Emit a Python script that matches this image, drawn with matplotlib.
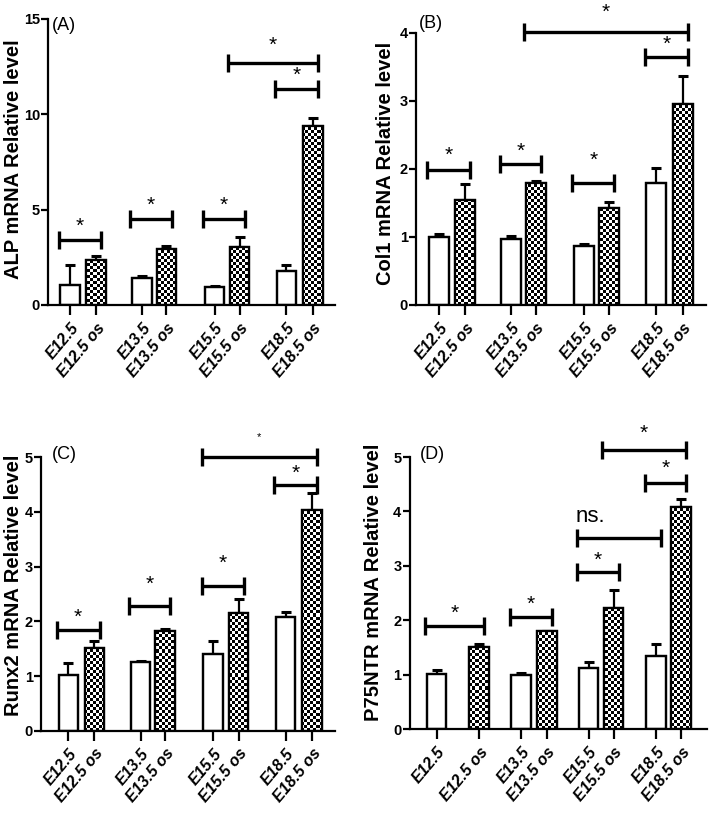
import numpy as np
import matplotlib
matplotlib.use("Agg")
from matplotlib import pyplot as plt

# categories (control / os pairs)
labels = ["E12.5", "E12.5 os", "E13.5", "E13.5 os",
          "E15.5", "E15.5 os", "E18.5", "E18.5 os"]
is_os = [False, True, False, True, False, True, False, True]

# bar heights and upper error bar lengths
alp_mean = [1.05, 2.35, 1.4, 2.95, 0.92, 3.05, 1.8, 9.4]
alp_err = [1.05, 0.2, 0.1, 0.15, 0.05, 0.52, 0.28, 0.4]
col1_mean = [1.0, 1.54, 0.97, 1.79, 0.87, 1.43, 1.79, 2.96]
col1_err = [0.05, 0.24, 0.05, 0.03, 0.03, 0.09, 0.22, 0.41]
runx2_mean = [1.02, 1.52, 1.25, 1.82, 1.41, 2.16, 2.07, 4.03]
runx2_err = [0.22, 0.12, 0.03, 0.03, 0.23, 0.24, 0.1, 0.32]
p75_mean = [1.01, 1.5, 1.0, 1.8, 1.13, 2.22, 1.35, 4.09]
p75_err = [0.08, 0.07, 0.03, 0.01, 0.1, 0.34, 0.22, 0.14]

# significance brackets: (left bar, right bar, height, label, label height)
alp_sig = [(0, 1, 3.4, "*", 4.4), (2, 3, 4.5, "*", 5.5), (4, 5, 4.5, "*", 5.5),
           (6, 7, 11.3, "*", 12.3), (5, 7, 12.7, "*", 13.9)]
col1_sig = [(0, 1, 1.99, "*", 2.28), (2, 3, 2.07, "*", 2.33), (4, 5, 1.79, "*", 2.21),
            (6, 7, 3.65, "*", 3.91), (3, 7, 4.02, "*", 4.38)]
runx2_sig = [(0, 1, 1.84, "*", 2.16), (2, 3, 2.28, "*", 2.77), (4, 5, 2.65, "*", 3.16),
             (6, 7, 4.49, "*", 4.8), (4, 7, 5.0, "*", 5.42)]
p75_sig = [(0, 1, 1.89, "*", 2.22), (2, 3, 2.06, "*", 2.38), (4, 5, 2.88, "*", 3.2),
           (4, 6, 3.51, "ns.", 3.9), (6, 7, 4.53, "*", 4.88), (5, 7, 5.13, "*", 5.53)]

FONT = ["Liberation Sans", "DejaVu Sans"]
NARROW = ["Liberation Sans Narrow", "Liberation Sans", "DejaVu Sans"]


def checker_fill(ax, bar):
    """Fill a bar with a black/white checkerboard, clipped to the bar."""
    fig = ax.figure
    bbox = ax.get_position()
    w_px = bbox.width * fig.get_figwidth() * fig.dpi
    h_px = bbox.height * fig.get_figheight() * fig.dpi
    nx, ny = int(w_px / 3), int(h_px / 3)
    board = np.add.outer(np.arange(ny), np.arange(nx)) % 2
    x0, x1 = ax.get_xlim()
    y0, y1 = ax.get_ylim()
    im = ax.imshow(board, cmap="gray", extent=(x0, x1, y0, y1), origin="lower",
                   aspect="auto", interpolation="nearest", zorder=2)
    im.set_clip_path(bar)


def draw_panel(ax, pos, xlim, mean, err, sig, ymax, yticks, ylabel, label_x,
               label_y, small_star=None):
    ax.set_xlim(*xlim)
    ax.set_ylim(0, ymax)
    bars = ax.bar(pos, mean, width=0.76, color="white", edgecolor="black",
                  linewidth=1.6, zorder=1)
    for b, os_bar in zip(bars, is_os):
        if os_bar:
            checker_fill(ax, b)
    # outline on top of the pattern
    ax.bar(pos, mean, width=0.76, fill=False, edgecolor="black",
           linewidth=1.6, zorder=3)
    ax.errorbar(pos, mean, yerr=[np.zeros(len(err)), err], fmt="none",
                ecolor="black", elinewidth=1.6, capsize=3.5, capthick=2.2,
                zorder=0)
    ax.set_xlim(*xlim)
    ax.set_ylim(0, ymax)

    for k, (i, j, y, txt, ty) in enumerate(sig):
        xl, xr = pos[i] - 0.45, pos[j] + 0.2
        ax.plot([xl, xr], [y, y], color="black", lw=2.4, clip_on=False,
                solid_capstyle="butt")
        ax.plot([xl, xr], [y, y], ls="none", marker="|", ms=13, mew=2.4,
                color="black", clip_on=False)
        if txt == "ns.":
            ax.text((xl + xr) / 2 - 1.1, ty, txt, ha="center", va="center",
                    fontsize=16, family=NARROW, clip_on=False)
        else:
            size = 8 if k == small_star else 15
            ax.annotate(txt, ((xl + xr) / 2, ty), xytext=(0, -size * 0.25),
                        textcoords="offset points", ha="center", va="center",
                        fontsize=size, family=FONT, annotation_clip=False)

    for s in ["top", "right"]:
        ax.spines[s].set_visible(False)
    for s in ["left", "bottom"]:
        ax.spines[s].set_linewidth(1.6)
    ax.set_xticks(pos)
    ax.set_xticklabels(labels, rotation=50, ha="right", rotation_mode="anchor",
                       fontsize=11.5, fontweight="bold", fontstyle="italic",
                       family=FONT)
    ax.set_yticks(yticks)
    ax.set_yticklabels([str(t) for t in yticks], fontsize=10.5, fontweight="bold",
                       family=NARROW)
    ax.tick_params(axis="x", length=7, width=1.6, pad=4)
    ax.tick_params(axis="y", length=5, width=1.6, pad=1)
    ax.set_ylabel(ylabel, fontsize=14.5, fontweight="bold", family=FONT)
    ax.yaxis.set_label_coords(label_x, label_y)


fig = plt.figure(figsize=(7.09, 8.22), dpi=100)

pos_abc = [0, 1, 2.78, 3.72, 5.58, 6.55, 8.36, 9.38]
pos_d = [0, 1.65, 3.27, 4.27, 5.88, 6.85, 8.5, 9.46]

ax_a = fig.add_axes([0.068, 0.629, 0.405, 0.348])
ax_b = fig.add_axes([0.587, 0.629, 0.409, 0.331])
ax_c = fig.add_axes([0.058, 0.111, 0.414, 0.333])
ax_d = fig.add_axes([0.578, 0.113, 0.419, 0.331])

draw_panel(ax_a, pos_abc, (-0.85, 10.25), alp_mean, alp_err, alp_sig, 15,
           [0, 5, 10, 15], "ALP mRNA Relative level", -0.089, 0.51)
draw_panel(ax_b, pos_abc, (-0.88, 10.28), col1_mean, col1_err, col1_sig, 4,
           [0, 1, 2, 3, 4], "Col1 mRNA Relative level", -0.072, 0.52)
draw_panel(ax_c, pos_abc, (-1.05, 10.25), runx2_mean, runx2_err, runx2_sig, 5,
           [0, 1, 2, 3, 4, 5], "Runx2 mRNA Relative level", -0.061, 0.53,
           small_star=4)
draw_panel(ax_d, pos_d, (-1.04, 10.46), p75_mean, p75_err, p75_sig, 5,
           [0, 1, 2, 3, 4, 5], "P75NTR mRNA Relative level", -0.091, 0.54)

# panel tags
for tag, x, y in [("(A)", 64, 25), ("(B)", 431, 23), ("(C)", 64, 454),
                  ("(D)", 432, 454)]:
    fig.text(x / 709, 1 - y / 822, tag, ha="center", va="center",
             fontsize=13, family=FONT)

fig.savefig("out.png", dpi=100)
